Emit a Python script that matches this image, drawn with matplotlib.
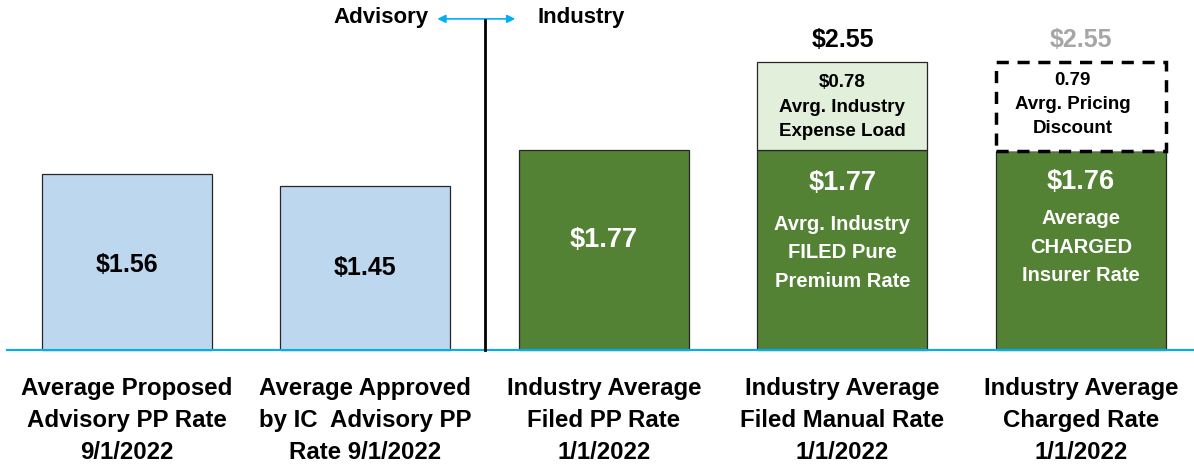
import matplotlib.pyplot as plt
import numpy as np

plt.rcParams['font.family'] = ['Liberation Sans', 'DejaVu Sans']
plt.rcParams['font.weight'] = 'bold'

categories = ['Average Proposed\nAdvisory PP Rate\n9/1/2022',
              'Average Approved\nby IC  Advisory PP\nRate 9/1/2022',
              'Industry Average\nFiled PP Rate\n1/1/2022',
              'Industry Average\nFiled Manual Rate\n1/1/2022',
              'Industry Average\nCharged Rate\n1/1/2022']
base_values = [1.56, 1.45, 1.77, 1.77, 1.76]
expense_load = 0.78
pricing_discount = 0.79
total_rate = 2.55

light_blue = '#bdd7ee'
dark_green = '#548235'
light_green = '#e2efda'
cyan = '#00b0f0'

x = np.arange(len(categories))
w = 0.713

fig = plt.figure(figsize=(11.94, 4.68), dpi=100)
ax = fig.add_axes([0, 0, 1, 1])
ax.set_xlim(-0.532, 4.474)
ax.set_ylim(-1.044, 3.097)
ax.axis('off')

colors = [light_blue, light_blue, dark_green, dark_green, dark_green]
ax.bar(x, base_values, width=w, color=colors, edgecolor='#262626', linewidth=0.9, zorder=2)

# stacked expense load on bar 4
ax.bar(x[3], expense_load, bottom=base_values[3], width=w, color=light_green,
       edgecolor='#262626', linewidth=0.9, zorder=2)
# dashed pricing discount box on bar 5
ax.bar(x[4], pricing_discount, bottom=base_values[4], width=w, color='white',
       edgecolor='black', linewidth=2.5, linestyle=(0, (3.5, 2.5)), zorder=3)

# baseline
ax.axhline(0, color=cyan, lw=1.5, xmin=0.006, zorder=4)

# divider and arrows
ax.plot([1.5, 1.5], [0, 2.92], color='black', lw=2, zorder=4)
ax.annotate('', xy=(1.29, 2.93), xytext=(1.64, 2.93),
            arrowprops=dict(arrowstyle='<|-|>', color=cyan, lw=1.2, mutation_scale=12))
ax.text(1.265, 2.945, 'Advisory', ha='right', va='center', fontsize=16)
ax.text(1.72, 2.945, 'Industry', ha='left', va='center', fontsize=16)

# value labels
ax.text(x[0], 0.75, '$%.2f' % base_values[0], ha='center', va='center', fontsize=18)
ax.text(x[1], 0.73, '$%.2f' % base_values[1], ha='center', va='center', fontsize=18)
ax.text(x[2], 0.97, '$%.2f' % base_values[2], ha='center', va='center', fontsize=19.5, color='white')

ax.text(x[3], 1.48, '$%.2f' % base_values[3], ha='center', va='center', fontsize=19.5, color='white')
ax.text(x[3], 0.86, 'Avrg. Industry\nFILED Pure\nPremium Rate', ha='center', va='center',
        fontsize=14.5, color='white', linespacing=1.62)
ax.text(x[3], 2.15, '$%.2f\nAvrg. Industry\nExpense Load' % expense_load, ha='center', va='center',
        fontsize=13.5, linespacing=1.55)
ax.text(x[3], 2.74, '$%.2f' % total_rate, ha='center', va='center', fontsize=18)

ax.text(x[4], 1.49, '$%.2f' % base_values[4], ha='center', va='center', fontsize=19.5, color='white')
ax.text(x[4], 0.91, 'Average\nCHARGED\nInsurer Rate', ha='center', va='center',
        fontsize=14.5, color='white', linespacing=1.62)
ax.text(x[4] - 0.035, 2.17, '%.2f\nAvrg. Pricing\nDiscount' % pricing_discount, ha='center', va='center',
        fontsize=13.5, linespacing=1.55)
ax.text(x[4], 2.74, '$%.2f' % total_rate, ha='center', va='center', fontsize=18, color='#a6a6a6')

# category labels
for xi, lab in zip(x, categories):
    ax.text(xi, -0.62, lab, ha='center', va='center', fontsize=17.3, linespacing=1.5)

fig.savefig('out.png', dpi=100)
